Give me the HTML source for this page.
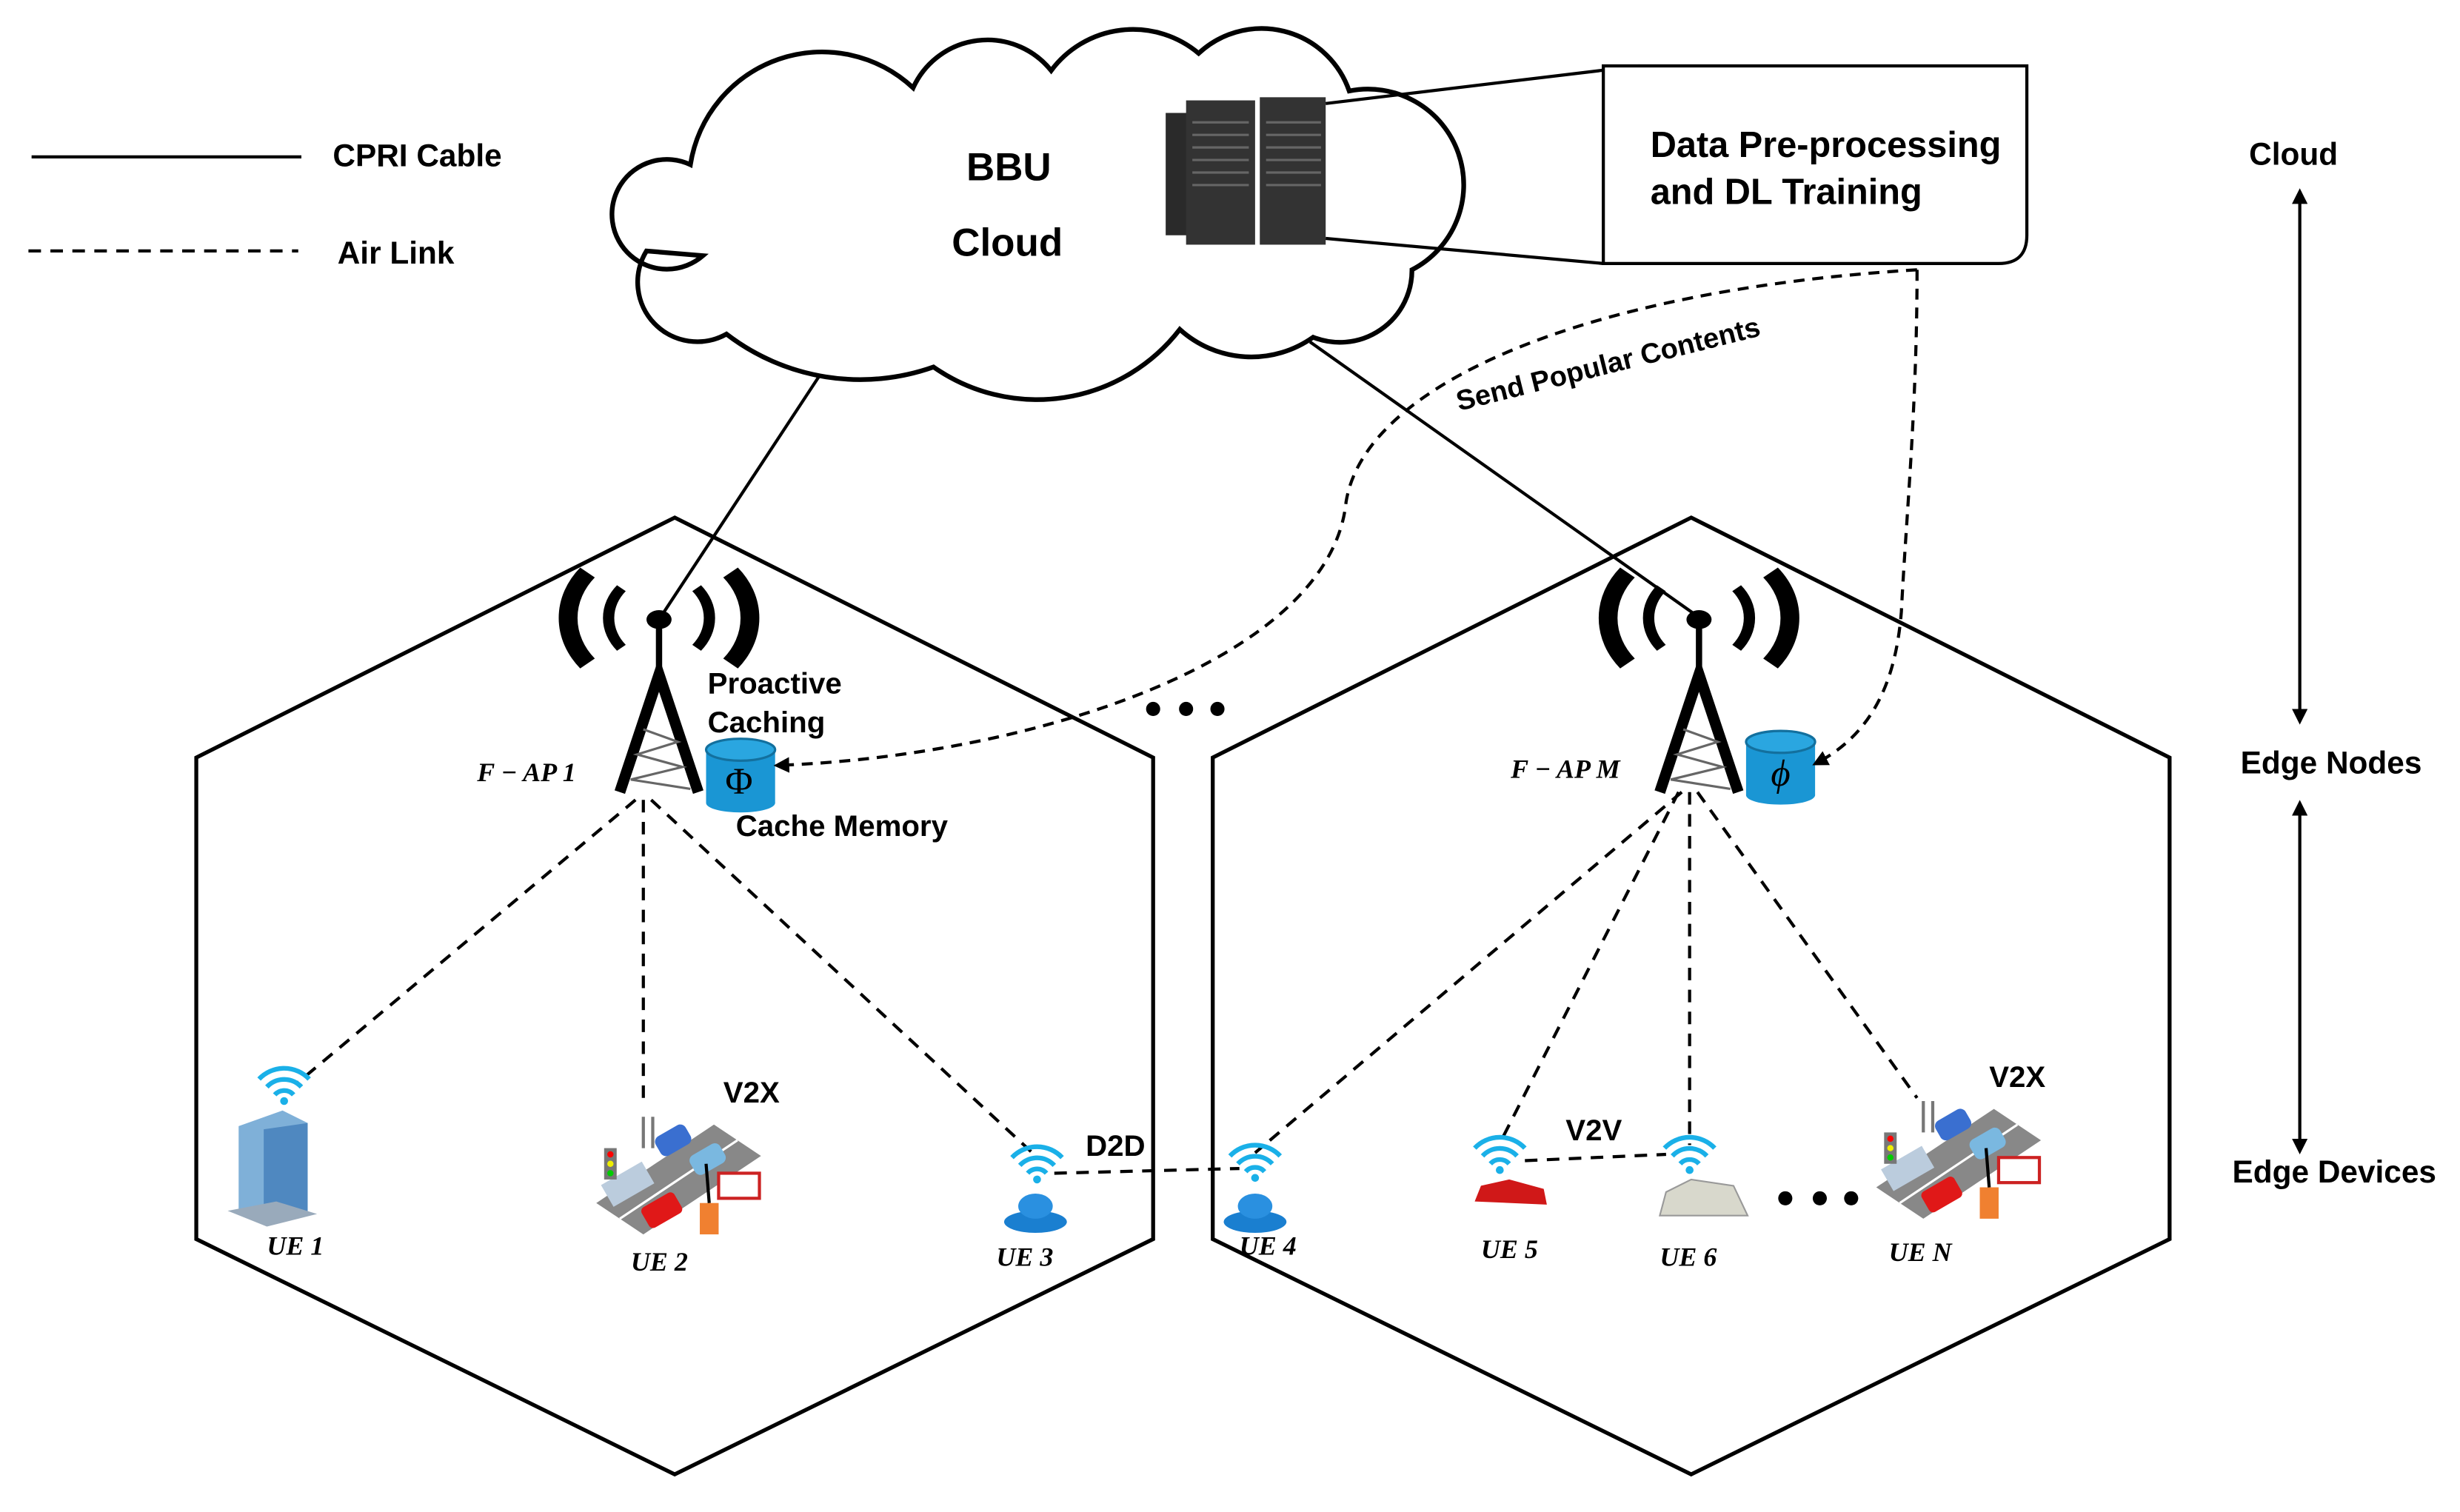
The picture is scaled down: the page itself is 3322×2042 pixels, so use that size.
<!DOCTYPE html>
<html><head><meta charset="utf-8"><style>
html,body{margin:0;padding:0;background:#fff;}
svg{display:block;}
text{font-family:"Liberation Sans",sans-serif;font-weight:bold;fill:#000;}
.it{font-family:"Liberation Serif",serif;font-style:italic;font-weight:bold;}
</style></head><body>
<svg width="3322" height="2042" viewBox="0 0 1568 964" xmlns="http://www.w3.org/2000/svg">
<defs>
<marker id="ar" markerWidth="10" markerHeight="10" refX="8" refY="5" orient="auto-start-reverse" markerUnits="userSpaceOnUse">
<path d="M0,0 L10,5 L0,10 z" fill="#000"/></marker>
<g id="wifi">
<path d="M-16,-6 A22,22 0 0 1 16,-6" fill="none" stroke="#1ab0e8" stroke-width="3"/>
<path d="M-11,-1 A15,15 0 0 1 11,-1" fill="none" stroke="#1ab0e8" stroke-width="3"/>
<path d="M-6,4 A8,8 0 0 1 6,4" fill="none" stroke="#1ab0e8" stroke-width="3"/>
<circle cx="0" cy="8" r="2.5" fill="#1ab0e8"/>
</g>
<g id="tower">
<g transform="scale(1.2 1.0)">
<path d="M-38,-30 A46,46 0 0 0 -38,28" fill="none" stroke="#000" stroke-width="10"/>
<path d="M-20,-20 A30,30 0 0 0 -20,18" fill="none" stroke="#000" stroke-width="6"/>
<path d="M38,-30 A46,46 0 0 1 38,28" fill="none" stroke="#000" stroke-width="10"/>
<path d="M20,-20 A30,30 0 0 1 20,18" fill="none" stroke="#000" stroke-width="6"/>
</g>
<ellipse cx="0" cy="0" rx="8" ry="6" fill="#000"/>
<line x1="0" y1="0" x2="0" y2="40" stroke="#000" stroke-width="4"/>
<path d="M-25,110 L0,35 L25,110" fill="none" stroke="#000" stroke-width="7"/>
<path d="M-10,70 L12,78 L-14,86 L15,94 L-18,102 L20,108" fill="none" stroke="#666" stroke-width="1.5"/>
</g>
<g id="cyl">
<rect x="0" y="8" width="44" height="34" fill="#1a96d4"/>
<ellipse cx="22" cy="42" rx="22" ry="6" fill="#1a96d4"/>
<ellipse cx="22" cy="8" rx="22" ry="7" fill="#2aa6e0" stroke="#13709e" stroke-width="1.5"/>
</g>
<g id="v2x">
<polygon points="0,55 75,5 105,25 30,75" fill="#888"/>
<line x1="15" y1="65" x2="90" y2="15" stroke="#fff" stroke-width="1.5"/>
<rect x="38" y="8" width="22" height="14" rx="4" fill="#3a6fd0" transform="rotate(-30 49 15)"/>
<rect x="60" y="20" width="22" height="14" rx="4" fill="#7ab8e0" transform="rotate(-30 71 27)"/>
<rect x="5" y="35" width="30" height="16" fill="#bcd" transform="rotate(-30 20 43)"/>
<rect x="30" y="52" width="24" height="15" rx="3" fill="#e01818" transform="rotate(-30 42 60)"/>
<rect x="78" y="36" width="26" height="16" fill="#fff" stroke="#c22" stroke-width="2"/>
<rect x="5" y="20" width="8" height="20" fill="#777"/>
<circle cx="9" cy="24" r="2" fill="red"/><circle cx="9" cy="30" r="2" fill="#ee0"/><circle cx="9" cy="36" r="2" fill="#0c0"/>
<rect x="66" y="55" width="12" height="20" fill="#f08030"/>
<line x1="70" y1="30" x2="72" y2="55" stroke="#000" stroke-width="2"/>
<line x1="30" y1="0" x2="30" y2="20" stroke="#777" stroke-width="2"/>
<line x1="36" y1="0" x2="36" y2="20" stroke="#777" stroke-width="2"/>
</g>
<g id="person">
<ellipse cx="0" cy="14" rx="20" ry="7" fill="#1a7fd0"/>
<ellipse cx="0" cy="4" rx="11" ry="8" fill="#2a90e0"/>
</g>
</defs>

<!-- legend -->
<line x1="20" y1="100" x2="192" y2="100" stroke="#000" stroke-width="2"/>
<text x="212" y="106" font-size="20">CPRI Cable</text>
<line x1="18" y1="160" x2="190" y2="160" stroke="#000" stroke-width="2" stroke-dasharray="8,6"/>
<text x="215" y="168" font-size="20">Air Link</text>

<!-- cloud -->
<path d="M448,163 A35,35 0 1 1 440,105 A85,85 0 0 1 582,56 A52,52 0 0 1 670,45 A65,65 0 0 1 764,34 A59,59 0 0 1 860,58 A61,61 0 0 1 900,172 A46,46 0 0 1 837,215 A68,68 0 0 1 752,210 A115,115 0 0 1 595,234 A140,140 0 0 1 463,213 A38,38 0 0 1 412,160 Z" fill="#fff" stroke="#000" stroke-width="3"/>
<text x="643" y="115" font-size="25" text-anchor="middle">BBU</text>
<text x="642" y="163" font-size="25" text-anchor="middle">Cloud</text>

<!-- servers -->
<rect x="743" y="72" width="18" height="78" fill="#2a2a2a"/>
<rect x="756" y="64" width="44" height="92" fill="#333"/>
<rect x="803" y="62" width="42" height="94" fill="#333"/>
<g stroke="#666" stroke-width="1.5">
<line x1="760" y1="78" x2="796" y2="78"/><line x1="760" y1="86" x2="796" y2="86"/><line x1="760" y1="94" x2="796" y2="94"/><line x1="760" y1="102" x2="796" y2="102"/><line x1="760" y1="110" x2="796" y2="110"/><line x1="760" y1="118" x2="796" y2="118"/>
<line x1="807" y1="78" x2="842" y2="78"/><line x1="807" y1="86" x2="842" y2="86"/><line x1="807" y1="94" x2="842" y2="94"/><line x1="807" y1="102" x2="842" y2="102"/><line x1="807" y1="110" x2="842" y2="110"/><line x1="807" y1="118" x2="842" y2="118"/>
</g>

<!-- box -->
<line x1="845" y1="66" x2="1045" y2="42" stroke="#000" stroke-width="2"/>
<line x1="845" y1="152" x2="1022" y2="168" stroke="#000" stroke-width="2"/>
<path d="M1022,42 L1292,42 L1292,150 Q1292,168 1274,168 L1022,168 Z" fill="#fff" stroke="#000" stroke-width="2"/>
<text x="1052" y="100" font-size="23">Data Pre-processing</text>
<text x="1052" y="130" font-size="23">and DL Training</text>

<!-- right axis -->
<text x="1462" y="105" font-size="20" text-anchor="middle">Cloud</text>
<line x1="1466" y1="122" x2="1466" y2="460" stroke="#000" stroke-width="2" marker-start="url(#ar)" marker-end="url(#ar)"/>
<text x="1486" y="493" font-size="20" text-anchor="middle">Edge Nodes</text>
<line x1="1466" y1="512" x2="1466" y2="734" stroke="#000" stroke-width="2" marker-start="url(#ar)" marker-end="url(#ar)"/>
<text x="1488" y="754" font-size="20" text-anchor="middle">Edge Devices</text>

<!-- hexagons -->
<polygon points="430,330 735,483 735,790 430,940 125,790 125,483" fill="none" stroke="#000" stroke-width="2.5"/>
<polygon points="1078,330 1383,483 1383,790 1078,940 773,790 773,483" fill="none" stroke="#000" stroke-width="2.5"/>

<!-- CPRI -->
<line x1="522" y1="240" x2="420" y2="395" stroke="#000" stroke-width="2"/>
<line x1="835" y1="218" x2="1085" y2="395" stroke="#000" stroke-width="2"/>

<!-- towers -->
<use href="#tower" x="420" y="395"/>
<use href="#tower" x="1083" y="395"/>
<use href="#cyl" x="450" y="470"/>
<use href="#cyl" x="1113" y="465"/>
<text x="471" y="506" font-size="24" text-anchor="middle" style="font-family:'Liberation Serif',serif;font-weight:normal">Φ</text>
<text x="1135" y="501" font-size="24" text-anchor="middle" class="it" style="font-weight:normal">ϕ</text>
<text x="304" y="498" font-size="17" class="it">F − AP 1</text>
<text x="963" y="496" font-size="17" class="it">F − AP M</text>
<text x="451" y="442" font-size="19">Proactive</text>
<text x="451" y="467" font-size="19">Caching</text>
<text x="469" y="533" font-size="19">Cache Memory</text>

<!-- send popular contents -->
<path d="M1222,172 C1010,185 870,245 858,320 C848,420 660,482 495,488" fill="none" stroke="#000" stroke-width="2" stroke-dasharray="7,5" marker-end="url(#ar)"/>
<path d="M1222,172 C1222,260 1215,330 1212,390 C1208,440 1190,470 1157,487" fill="none" stroke="#000" stroke-width="2" stroke-dasharray="7,5" marker-end="url(#ar)"/>
<text x="930" y="262" font-size="18" transform="rotate(-14 930 262)">Send Popular Contents</text>

<!-- dots -->
<circle cx="735" cy="452" r="4.5"/><circle cx="756" cy="452" r="4.5"/><circle cx="776" cy="452" r="4.5"/>
<circle cx="1138" cy="764" r="4.5"/><circle cx="1160" cy="764" r="4.5"/><circle cx="1180" cy="764" r="4.5"/>

<!-- air links -->
<g stroke="#000" stroke-width="2" stroke-dasharray="8,6" fill="none">
<line x1="405" y1="510" x2="190" y2="690"/>
<line x1="410" y1="510" x2="410" y2="702"/>
<line x1="415" y1="510" x2="658" y2="735"/>
<line x1="1072" y1="505" x2="800" y2="735"/>
<line x1="1070" y1="505" x2="958" y2="725"/>
<line x1="1077" y1="505" x2="1077" y2="730"/>
<line x1="1082" y1="505" x2="1222" y2="700"/>
<line x1="672" y1="748" x2="790" y2="745"/>
<line x1="972" y1="740" x2="1062" y2="736"/>
</g>
<text x="692" y="737" font-size="19">D2D</text>
<text x="998" y="727" font-size="19">V2V</text>
<text x="461" y="703" font-size="19">V2X</text>
<text x="1268" y="693" font-size="19">V2X</text>

<!-- devices -->
<use href="#wifi" x="181" y="694"/>
<polygon points="152,718 180,708 196,716 196,775 168,780 152,772" fill="#7fb0d8"/>
<polygon points="168,720 196,716 196,775 168,780" fill="#4f88c0"/>
<polygon points="145,772 170,782 202,774 176,766" fill="#9ab"/>
<use href="#v2x" x="380" y="712"/>
<use href="#wifi" x="661" y="744"/>
<use href="#person" x="660" y="765"/>
<use href="#wifi" x="800" y="743"/>
<use href="#person" x="800" y="765"/>
<use href="#wifi" x="956" y="738"/>
<path d="M940,766 L944,756 L962,752 L984,758 L986,768 Z" fill="#d01818"/>
<use href="#wifi" x="1077" y="738"/>
<path d="M1058,775 L1062,760 L1078,752 L1105,756 L1114,775 Z" fill="#d8d8cc" stroke="#999"/>
<use href="#v2x" x="1196" y="702"/>

<g font-size="17">
<text x="170" y="800" class="it">UE 1</text>
<text x="402" y="810" class="it">UE 2</text>
<text x="635" y="807" class="it">UE 3</text>
<text x="790" y="800" class="it">UE 4</text>
<text x="944" y="802" class="it">UE 5</text>
<text x="1058" y="807" class="it">UE 6</text>
<text x="1204" y="804" class="it">UE N</text>
</g>
</svg>
</body></html>
